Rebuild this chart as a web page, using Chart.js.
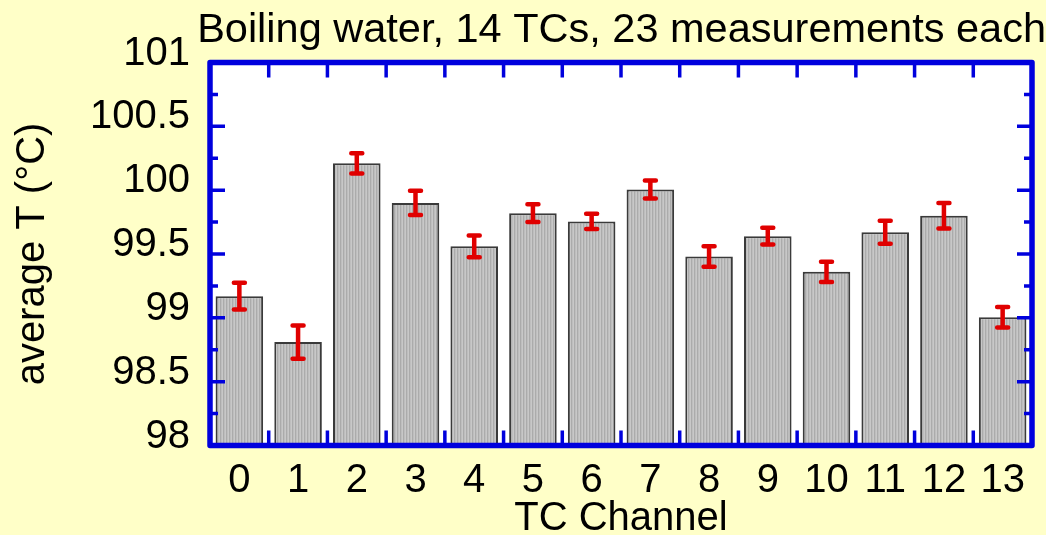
<!DOCTYPE html>
<html>
<head>
<meta charset="utf-8">
<title>Boiling water, 14 TCs</title>
<script src="https://cdn.jsdelivr.net/npm/chart.js@4.4.1/dist/chart.umd.min.js"></script>
<style>
    html, body { margin: 0; padding: 0; background: #ffffc8; }
    #wrap { width: 1046px; height: 535px; }
</style>
</head>
<body>
<div id="wrap"><canvas id="chart" width="1046" height="535"></canvas></div>
<script>
    // thermocouple channels and their mean reading in boiling water
    const channels = ['0', '1', '2', '3', '4', '5', '6', '7', '8', '9', '10', '11', '12', '13'];
    const meanTemp = [99.17, 98.81, 100.21, 99.90, 99.56, 99.82, 99.755, 100.005, 99.48, 99.64, 99.36, 99.67, 99.80, 99.005];
    // half-length of each error bar
    const tempError = [0.105, 0.13, 0.08, 0.095, 0.085, 0.07, 0.06, 0.07, 0.08, 0.065, 0.08, 0.09, 0.10, 0.08];
    const yTickValues = [98, 98.5, 99, 99.5, 100, 100.5, 101];

    const FONT = 'Liberation Sans, Arial, sans-serif';
    const BLUE = '#0000dd';
    const RED = '#e00000';

    // fine vertical hatch used as bar fill
    function stripePattern() {
        const c = document.createElement('canvas');
        c.width = 3;
        c.height = 1;
        const g = c.getContext('2d');
        ['#c8c8c8', '#ababab', '#bebebe'].forEach(function (col, i) {
            g.fillStyle = col;
            g.fillRect(i, 0, 1, 1);
        });
        return g.createPattern(c, 'repeat');
    }

    const framePlugin = {
        id: 'frame',
        beforeDatasetsDraw: function (chart) {
            const a = chart.chartArea;
            const ctx = chart.ctx;
            ctx.save();
            ctx.fillStyle = '#ffffff';
            ctx.fillRect(a.left, a.top, a.right - a.left, a.bottom - a.top);
            ctx.restore();
        },
        afterDatasetsDraw: function (chart) {
            const ctx = chart.ctx;
            const a = chart.chartArea;
            const x = chart.scales.x;
            const y = chart.scales.y;
            const bars = chart.getDatasetMeta(0).data;

            ctx.save();

            // error bars
            ctx.strokeStyle = RED;
            ctx.lineWidth = 4.5;
            ctx.lineCap = 'round';
            bars.forEach(function (bar, i) {
                const yHi = y.getPixelForValue(meanTemp[i] + tempError[i]);
                const yLo = y.getPixelForValue(meanTemp[i] - tempError[i]);
                ctx.beginPath();
                ctx.moveTo(bar.x, yHi);
                ctx.lineTo(bar.x, yLo);
                ctx.moveTo(bar.x - 5.5, yHi);
                ctx.lineTo(bar.x + 5.5, yHi);
                ctx.moveTo(bar.x - 5.5, yLo);
                ctx.lineTo(bar.x + 5.5, yLo);
                ctx.stroke();
            });

            // inward ticks
            ctx.strokeStyle = BLUE;
            ctx.lineCap = 'butt';
            ctx.lineWidth = 3.5;
            ctx.beginPath();
            for (let i = 0; i < yTickValues.length; i++) {
                const py = y.getPixelForValue(yTickValues[i]);
                ctx.moveTo(a.left, py);
                ctx.lineTo(a.left + 15, py);
                ctx.moveTo(a.right, py);
                ctx.lineTo(a.right - 15, py);
                if (i < yTickValues.length - 1) {
                    const pm = y.getPixelForValue((yTickValues[i] + yTickValues[i + 1]) / 2);
                    ctx.moveTo(a.left, pm);
                    ctx.lineTo(a.left + 8, pm);
                    ctx.moveTo(a.right, pm);
                    ctx.lineTo(a.right - 8, pm);
                }
            }
            for (let i = 0; i < channels.length - 1; i++) {
                const px = (x.getPixelForValue(i) + x.getPixelForValue(i + 1)) / 2;
                ctx.moveTo(px, a.top);
                ctx.lineTo(px, a.top + 15);
                ctx.moveTo(px, a.bottom);
                ctx.lineTo(px, a.bottom - 15);
            }
            ctx.stroke();

            // plot frame
            ctx.lineWidth = 5.5;
            ctx.lineJoin = 'round';
            ctx.strokeRect(a.left, a.top, a.right - a.left, a.bottom - a.top);
            ctx.restore();
        }
    };

    new Chart(document.getElementById('chart'), {
        type: 'bar',
        data: {
            labels: channels,
            datasets: [{
                data: meanTemp,
                backgroundColor: stripePattern(),
                borderColor: '#3a3a3a',
                borderWidth: 2,
                barPercentage: 0.81,
                categoryPercentage: 1
            }]
        },
        options: {
            responsive: false,
            animation: false,
            layout: { padding: 0 },
            plugins: {
                legend: { display: false },
                tooltip: { enabled: false },
                title: {
                    display: true,
                    text: 'Boiling water, 14 TCs, 23 measurements each',
                    align: 'end',
                    color: '#000',
                    font: { family: FONT, size: 41.5, weight: 'normal', lineHeight: 1.2 },
                    padding: { top: 5.5, bottom: 7.2 }
                }
            },
            scales: {
                x: {
                    grid: { display: false, drawTicks: false },
                    border: { display: false },
                    ticks: {
                        color: '#000',
                        padding: 11,
                        maxRotation: 0,
                        autoSkip: false,
                        font: { family: FONT, size: 40 }
                    },
                    title: {
                        display: true,
                        text: 'TC Channel',
                        color: '#000',
                        padding: 0,
                        font: { family: FONT, size: 40, lineHeight: 0.8 }
                    },
                    afterFit: function (s) { s.height = 89.5; }
                },
                y: {
                    min: 98,
                    max: 101,
                    afterBuildTicks: function (s) {
                        s.ticks = yTickValues.map(function (v) { return { value: v }; });
                    },
                    grid: { display: false, drawTicks: false },
                    border: { display: false },
                    ticks: {
                        color: '#000',
                        padding: 20,
                        labelOffset: -9,
                        font: { family: FONT, size: 40 },
                        callback: function (v) { return String(v); }
                    },
                    title: {
                        display: true,
                        text: 'average T (°C)',
                        color: '#000',
                        padding: { top: 9, bottom: 0 },
                        font: { family: FONT, size: 40, lineHeight: 1.2 }
                    },
                    afterFit: function (s) { s.width = 210; }
                },
                y2: {
                    position: 'right',
                    min: 98,
                    max: 101,
                    grid: { display: false, drawTicks: false },
                    border: { display: false },
                    ticks: { display: false },
                    afterFit: function (s) { s.width = 14; }
                }
            }
        },
        plugins: [framePlugin]
    });
</script>
</body>
</html>
